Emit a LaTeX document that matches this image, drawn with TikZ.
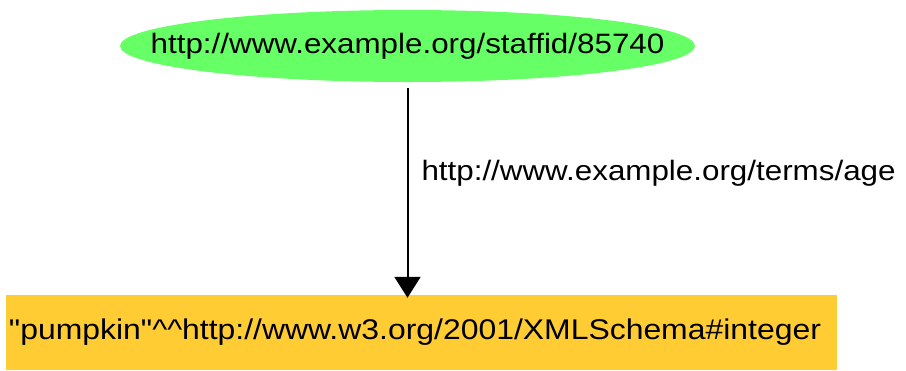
\documentclass[tikz,border=0pt]{standalone}
\usepackage{fontspec}
\setmainfont{Liberation Sans}
\newfontfamily\rdffont[FakeStretch=1.12]{Liberation Sans}
\usepackage{tikz}
\usetikzlibrary{shapes,positioning,arrows.meta}
\definecolor{resgreen}{RGB}{102,255,102}
\definecolor{litorange}{RGB}{255,204,51}

\begin{document}
\begin{tikzpicture}[x=1pt,y=-1pt]
\tikzstyle{every node}+=[inner sep=0pt, font=\rdffont\fontsize{28}{30}\selectfont]
\tikzstyle{resource}=[ellipse, fill=resgreen, minimum width=575pt, minimum height=72pt]
\tikzstyle{literal}=[rectangle, fill=litorange, minimum width=831pt, minimum height=75pt,
  inner xsep=3pt, text width=825pt, align=left, font=\rdffont\fontsize{28.5}{30}\selectfont]
\tikzstyle{property}=[draw=black, line width=2pt, -{Triangle[length=21pt,width=26pt]}]
\useasboundingbox (0,0) rectangle (906,370);
% subject and object
\node[resource] (staff) at (407.5,46) {\makebox[0pt]{http://www.example.org/staffid/85740}};
\node[literal] (pumpkin) at (421.5,332.5) {"pumpkin"\textasciicircum\textasciicircum http://www.w3.org/2001/XMLSchema\#integer};
% predicate
\draw[property, shorten <=6pt, shorten >=-3pt] (staff.south) -- (staff.south |- pumpkin.north)
  node[pos=0.43, right=13pt] (age) {http://www.example.org/terms/age};
\end{tikzpicture}
\end{document}
